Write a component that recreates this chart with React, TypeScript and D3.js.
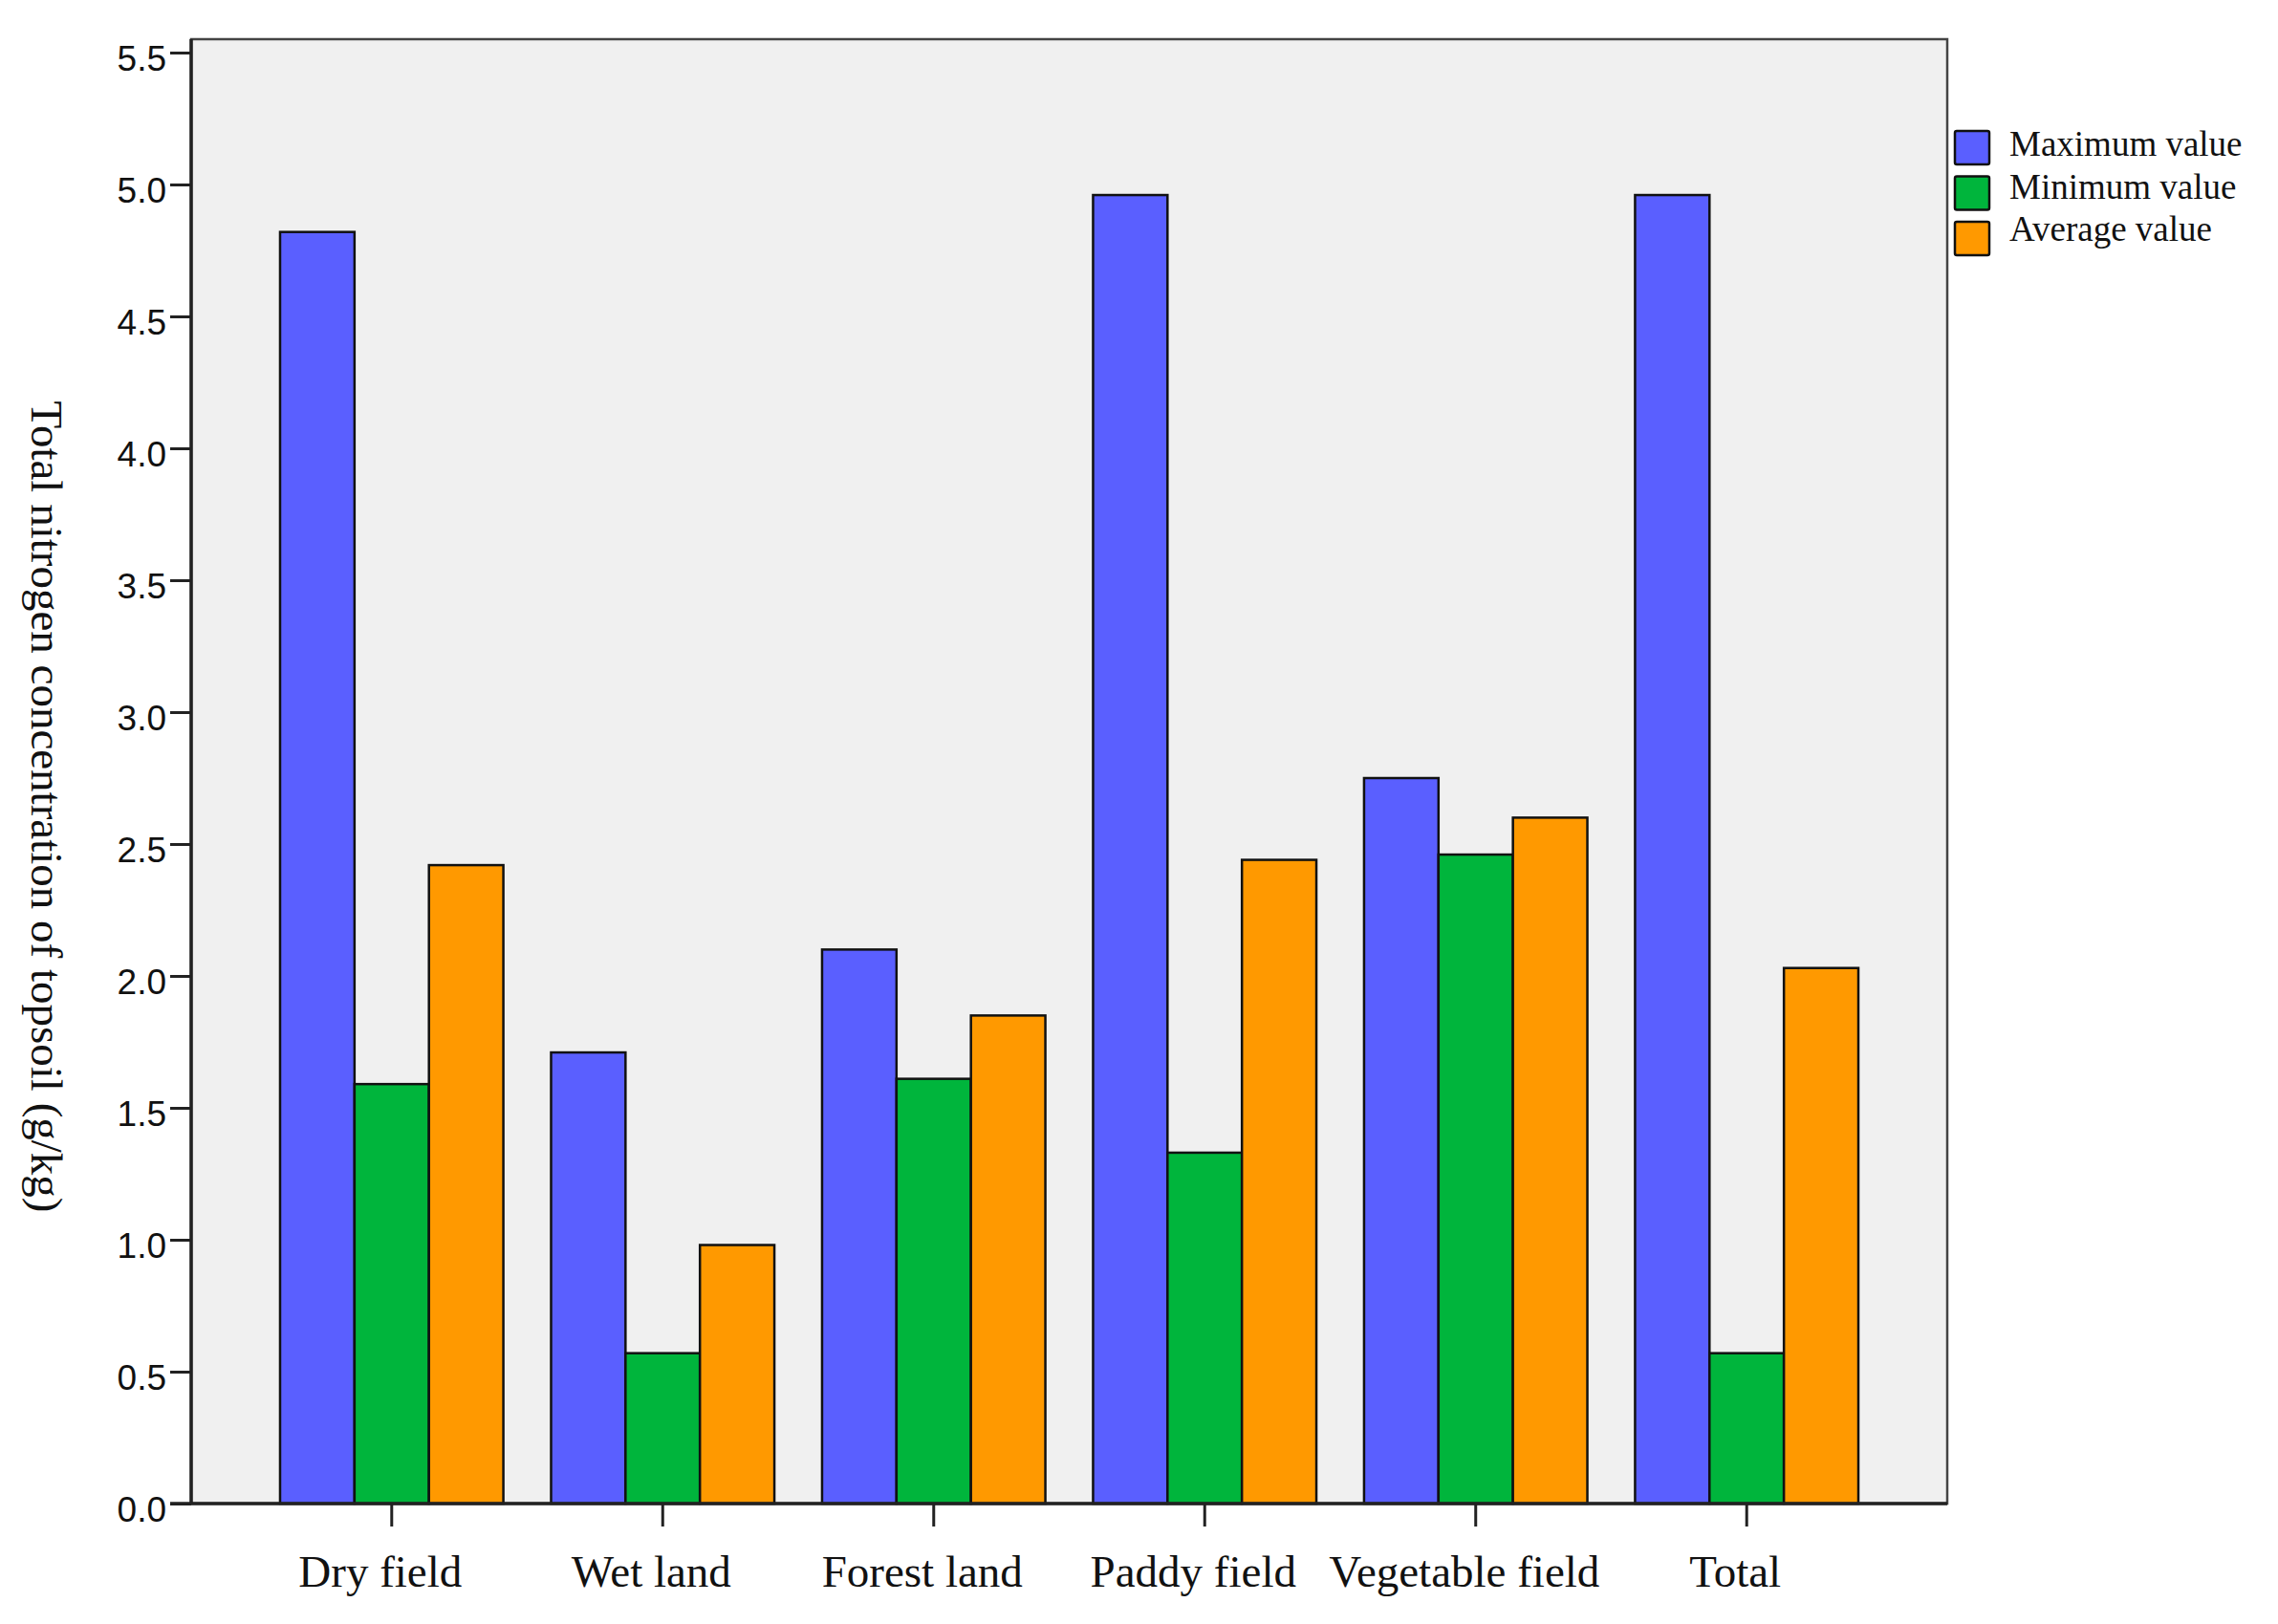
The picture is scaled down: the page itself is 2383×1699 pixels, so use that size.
import React, { useEffect, useRef } from 'react'
import * as d3 from 'd3'

// land use types along the x axis
const categories = ['Dry field', 'Wet land', 'Forest land', 'Paddy field', 'Vegetable field', 'Total']

const seriesNames = ['Maximum value', 'Minimum value', 'Average value']
const seriesColors = ['#5a5fff', '#00b53c', '#ff9900']

// values (g/kg)
const maxValues = [4.82, 1.71, 2.1, 4.96, 2.75, 4.96]
const minValues = [1.59, 0.57, 1.61, 1.33, 2.46, 0.57]
const avgValues = [2.42, 0.98, 1.85, 2.44, 2.6, 2.03]

const yTicks = [0, 0.5, 1, 1.5, 2, 2.5, 3, 3.5, 4, 4.5, 5, 5.5]

const WIDTH = 2383
const HEIGHT = 1699
const SERIF = '"Liberation Serif", "Times New Roman", serif'
const SANS = '"Liberation Sans", Arial, sans-serif'

export default function App() {
  const svgRef = useRef<SVGSVGElement>(null)

  useEffect(() => {
    document.body.style.margin = '0'
    if (!svgRef.current) return
    const svg = d3.select(svgRef.current)
    svg.selectAll('*').remove()

    const plot = { left: 200, right: 2037, top: 41, bottom: 1573 }

    const x = d3.scaleBand<string>()
      .domain(categories)
      .range([plot.left, plot.right])
      .paddingInner(0.176)
      .paddingOuter(0.328)

    const xInner = d3.scaleBand<string>()
      .domain(seriesNames)
      .range([0, x.bandwidth()])

    const y = d3.scaleLinear().domain([0, 5.5]).range([plot.bottom, 55])

    const color = d3.scaleOrdinal<string>().domain(seriesNames).range(seriesColors)

    // plot background + frame
    svg.append('rect')
      .attr('x', plot.left)
      .attr('y', plot.top)
      .attr('width', plot.right - plot.left)
      .attr('height', plot.bottom - plot.top)
      .attr('fill', '#f0f0f0')
      .attr('stroke', '#444')
      .attr('stroke-width', 2.5)

    const rows = categories.map((c, i) => ({
      category: c,
      values: [maxValues[i], minValues[i], avgValues[i]]
    }))

    const groups = svg.selectAll('.group')
      .data(rows)
      .enter().append('g')
      .attr('class', 'group')
      .attr('transform', d => `translate(${x(d.category)},0)`)

    groups.selectAll('rect')
      .data(d => d.values.map((v, j) => ({ key: seriesNames[j], value: v })))
      .enter().append('rect')
      .attr('x', d => xInner(d.key) as number)
      .attr('y', d => y(d.value))
      .attr('width', xInner.bandwidth())
      .attr('height', d => y(0) - y(d.value))
      .attr('fill', d => color(d.key))
      .attr('stroke', '#111')
      .attr('stroke-width', 2.5)

    // y axis
    const yAxis = d3.axisLeft(y)
      .tickValues(yTicks)
      .tickFormat(d => d3.format('.1f')(d as number))
      .tickSize(22)
      .tickSizeOuter(0)
      .tickPadding(4)

    const yg = svg.append('g')
      .attr('transform', `translate(${plot.left},0)`)
      .call(yAxis)
    yg.select('.domain').remove()
    yg.selectAll('line').attr('stroke', '#222').attr('stroke-width', 3)
    yg.selectAll('text')
      .attr('dy', '0.5em')
      .style('font-size', '37px')
      .style('font-family', SANS)
      .style('fill', '#111')

    // x axis
    const xAxis = d3.axisBottom(x).tickSize(24).tickSizeOuter(0).tickPadding(30)
    const xg = svg.append('g')
      .attr('transform', `translate(0,${plot.bottom})`)
      .call(xAxis)
    xg.select('.domain').remove()
    xg.selectAll('line').attr('stroke', '#222').attr('stroke-width', 3)
    xg.selectAll('text')
      .attr('dy', '0.71em')
      .attr('dx', -12)
      .style('font-size', '47px')
      .style('font-family', SERIF)
      .style('fill', '#111')

    // axis lines on left and bottom
    svg.append('line')
      .attr('x1', plot.left).attr('x2', plot.left)
      .attr('y1', plot.top).attr('y2', plot.bottom)
      .attr('stroke', '#222').attr('stroke-width', 3.5)
    svg.append('line')
      .attr('x1', plot.left - 22).attr('x2', plot.right)
      .attr('y1', plot.bottom).attr('y2', plot.bottom)
      .attr('stroke', '#222').attr('stroke-width', 3.5)

    // y axis title
    svg.append('text')
      .attr('transform', `translate(33, ${(418 + 1270) / 2}) rotate(90)`)
      .style('text-anchor', 'middle')
      .style('font-size', '47px')
      .style('font-family', SERIF)
      .style('fill', '#111')
      .text('Total nitrogen concentration of topsoil (g/kg)')

    // legend
    const legend = svg.append('g')
      .attr('transform', `translate(2045, 137)`)

    legend.selectAll('.legend-swatch')
      .data(seriesNames)
      .enter().append('rect')
      .attr('class', 'legend-swatch')
      .attr('y', (d, i) => i * 47.5)
      .attr('width', 36)
      .attr('height', 35)
      .attr('rx', 2)
      .attr('fill', d => color(d))
      .attr('stroke', '#111')
      .attr('stroke-width', 2.5)

    legend.selectAll('.legend-label')
      .data(seriesNames)
      .enter().append('text')
      .attr('class', 'legend-label')
      .attr('x', 57)
      .attr('y', (d, i) => 26 + i * 44.5)
      .style('font-size', '37px')
      .style('font-family', SERIF)
      .style('fill', '#111')
      .text(d => d)
  }, [])

  return (
    <svg
      ref={svgRef}
      width={WIDTH}
      height={HEIGHT}
      style={{ display: 'block', background: '#fff' }}
    />
  )
}
